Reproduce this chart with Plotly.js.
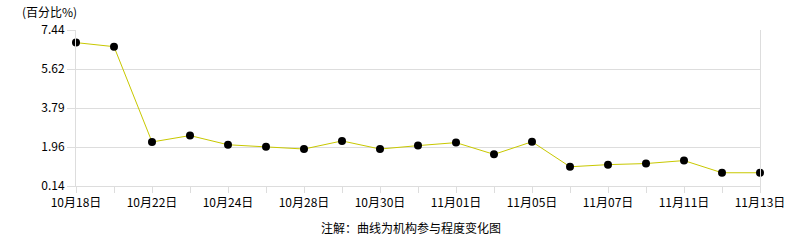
<!DOCTYPE html>
<html>
<head>
<meta charset="utf-8">
<script src="https://cdn.plot.ly/plotly-3.0.1.min.js"></script>
<style>html,body{margin:0;padding:0;background:#fff;}#chart{width:786px;height:240px;}</style>
</head>
<body>
<div id="chart"></div>
<script>
const categories = ["10月18日","10月21日","10月22日","10月23日","10月24日","10月25日","10月28日","10月29日","10月30日","10月31日","11月01日","11月04日","11月05日","11月06日","11月07日","11月08日","11月11日","11月12日","11月13日"];
const values = [6.85,6.66,2.20,2.50,2.07,1.98,1.87,2.25,1.87,2.03,2.17,1.62,2.21,1.04,1.14,1.19,1.33,0.76,0.76];
const xTickLabels = ["10月18日","","10月22日","","10月24日","","10月28日","","10月30日","","11月01日","","11月05日","","11月07日","","11月11日","","11月13日"];
const yTickVals = [0.14,1.965,3.79,5.615,7.44];
const yTickLabels = ["0.14","1.96","3.79","5.62","7.44"];

const font = {family:'"Noto Sans CJK SC", "DejaVu Sans", sans-serif', size:12, color:'#000'};

Plotly.newPlot('chart', [{
  x: categories, y: values, type:'scatter', mode:'lines+markers',
  line:{color:'#c8c800', width:1},
  marker:{color:'#000', size:8},
  cliponaxis:false, hoverinfo:'skip'
}], {
  width:786, height:240,
  margin:{l:76, r:26, t:30, b:54},
  paper_bgcolor:'#fff', plot_bgcolor:'#fff',
  font: font,
  showlegend:false,
  xaxis:{type:'category', range:[0,18], tickmode:'array', tickvals:categories, ticktext:xTickLabels,
    showgrid:false, zeroline:false, showline:true, linecolor:'#dddddd', linewidth:1,
    ticks:'outside', ticklen:6, tickcolor:'#dddddd', tickangle:0, tickfont:font},
  yaxis:{range:[0.14,7.44], tickmode:'array', tickvals:yTickVals, ticktext:yTickLabels,
    showgrid:true, gridcolor:'#dddddd', zeroline:false, showline:true, mirror:true, linecolor:'#dddddd', linewidth:1,
    ticks:'outside', ticklen:8, tickcolor:'#dddddd', tickfont:font},
  annotations:[
    {text:'(百分比%)', xref:'paper', yref:'paper', x:-0.082, y:1.0, yshift:19, xanchor:'left', yanchor:'middle', showarrow:false, font:font},
    {text:'注解：曲线为机构参与程度变化图', xref:'paper', yref:'paper', x:0.49, y:0, yshift:-41, xanchor:'center', yanchor:'middle', showarrow:false, font:font}
  ]
}, {displayModeBar:false, staticPlot:true});
</script>
</body>
</html>
